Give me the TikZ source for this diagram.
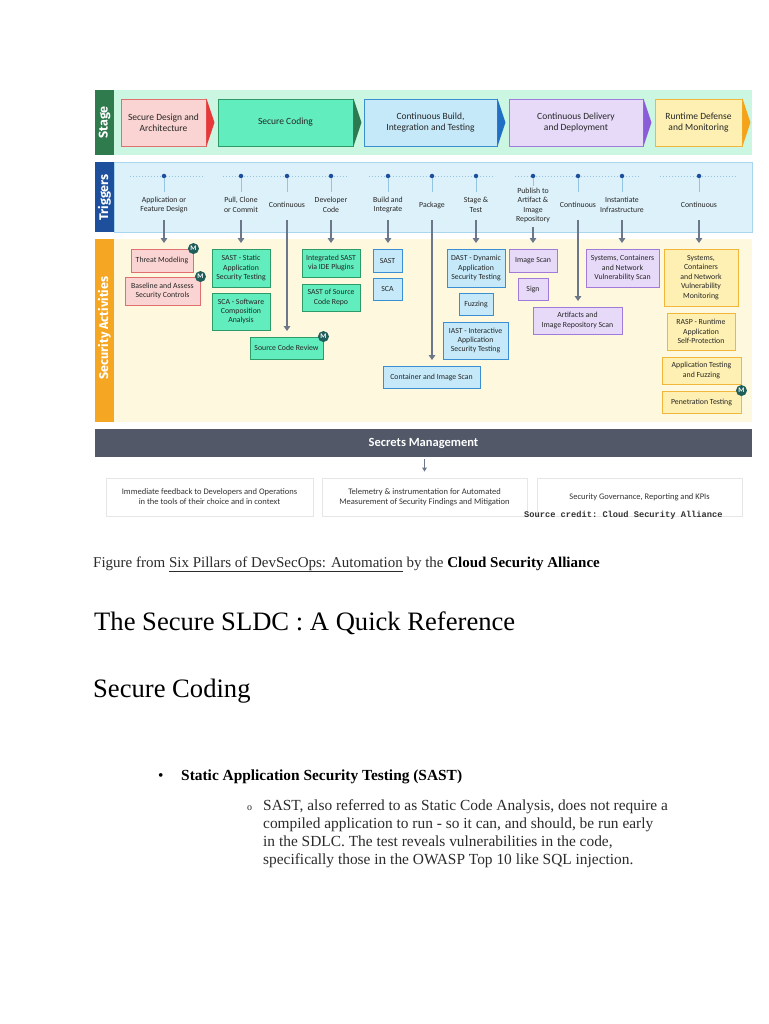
\documentclass[tikz,border=0pt]{standalone}
\usepackage{fontspec}
\setmainfont{Liberation Serif}
\setmonofont{Liberation Mono}
\newfontfamily\dg{Carlito}
\newfontfamily\bandfont{Fira Sans}
\usetikzlibrary{arrows.meta,calc}

\definecolor{stagebg}{HTML}{CBF6E2}
\definecolor{stagebar}{HTML}{2F7B4E}
\definecolor{trigbg}{HTML}{DDF1FA}
\definecolor{trigborder}{HTML}{A8D6EE}
\definecolor{trigbar}{HTML}{1E4F9C}
\definecolor{actbg}{HTML}{FDF8DE}
\definecolor{actbar}{HTML}{F5A623}
\definecolor{redfill}{HTML}{FAD4D2}
\definecolor{redline}{HTML}{E07070}
\definecolor{redtip}{HTML}{E8393A}
\definecolor{grnfill}{HTML}{62EDBE}
\definecolor{grnline}{HTML}{2E9A68}
\definecolor{grntip}{HTML}{2B7A52}
\definecolor{blufill}{HTML}{C5E9F9}
\definecolor{bluline}{HTML}{3A8FD2}
\definecolor{blutip}{HTML}{2270C6}
\definecolor{purfill}{HTML}{E7DAF9}
\definecolor{purline}{HTML}{A27BDA}
\definecolor{purtip}{HTML}{8B5CD8}
\definecolor{yelfill}{HTML}{FDF0B2}
\definecolor{yelline}{HTML}{F0B73A}
\definecolor{yeltip}{HTML}{F5A319}
\definecolor{arrowgray}{HTML}{6C788A}
\definecolor{dotblue}{HTML}{1C4E9E}
\definecolor{dotline}{HTML}{93C4E2}
\definecolor{secretsbg}{HTML}{525868}
\definecolor{badgecol}{HTML}{1F5E5A}
\definecolor{lightbox}{HTML}{E6E6E6}
\definecolor{bodytext}{HTML}{2B2B2B}

\tikzset{
  stagebox/.style={draw, line width=0.9pt, minimum height=47, inner sep=2,
    align=center, text=black!85, font=\dg\fontsize{9.5}{11}\selectfont},
  actbox/.style={draw, line width=0.9pt, inner sep=1.5, align=center,
    text=black!85, font=\dg\fontsize{7.8}{9.4}\selectfont},
  redb/.style={actbox, fill=redfill, draw=redline},
  grnb/.style={actbox, fill=grnfill, draw=grnline},
  blub/.style={actbox, fill=blufill, draw=bluline},
  purb/.style={actbox, fill=purfill, draw=purline},
  yelb/.style={actbox, fill=yelfill, draw=yelline},
  trig/.style={inner sep=0, minimum height=22, align=center, text=black!85,
    font=\dg\fontsize{7.8}{9.6}\selectfont},
  tdot/.style={circle, fill=dotblue, inner sep=0, minimum size=4.5},
  tline/.style={dotline, line width=0.8pt, shorten >=2pt},
  guide/.style={dotline, line width=0.8pt, dash pattern=on 1.2pt off 1.8pt},
  garrow/.style={line width=2.1pt, arrowgray, -{Triangle[length=5pt,width=6.5pt]},
    shorten <=4pt, shorten >=5.5pt},
  badgem/.style={circle, fill=badgecol, inner sep=0, minimum size=11,
    text=white, font=\dg\bfseries\fontsize{7}{7}\selectfont},
  bandlabel/.style={rotate=90, text=white, inner sep=0,
    font=\bandfont\bfseries\fontsize{12.5}{13}\selectfont},
  outbox/.style={draw=lightbox, line width=0.8pt, fill=white, minimum height=38,
    align=center, text=black!80, font=\dg\fontsize{8.5}{10}\selectfont},
  pagetext/.style={anchor=base west, inner sep=0, text=bodytext,
    font=\fontsize{15.4}{18}\selectfont},
  headtext/.style={anchor=base west, inner sep=0, text=black,
    font=\fontsize{26.6}{30}\selectfont},
}

\begin{document}
\begin{tikzpicture}[x=1pt,y=-1pt]
\useasboundingbox (0,0) rectangle (768,1024);
\fill[white] (0,0) rectangle (768,1024);

% ---------- Stage band ----------
\fill[stagebg] (95,90) rectangle (752,155);
\fill[stagebar] (95,90) rectangle (114,155);
\node[bandlabel] (lstage) at (104.5,122.5) {Stage};

\node[stagebox, fill=redfill, draw=redline, minimum width=85] (s1) at (163.5,122.5) {Secure Design and\\Architecture};
\node[stagebox, fill=grnfill, draw=grnline, minimum width=135] (s2) at (285.5,122.5) {Secure Coding};
\node[stagebox, fill=blufill, draw=bluline, minimum width=133] (s3) at (430.5,122.5) {Continuous Build,\\Integration and Testing};
\node[stagebox, fill=purfill, draw=purline, minimum width=134] (s4) at (576,122.5) {Continuous Delivery\\and Deployment};
\node[stagebox, fill=yelfill, draw=yelline, minimum width=87] (s5) at (698.5,122.5) {Runtime Defense\\and Monitoring};
\foreach \n/\c in {s1/redtip,s2/grntip,s3/blutip,s4/purtip,s5/yeltip}
  \fill[\c] (\n.north east) -- ($(\n.east)+(8,0)$) -- (\n.south east) -- cycle;

% ---------- Triggers band ----------
\fill[trigbg] (114,162) rectangle (752,232);
\draw[trigborder, line width=0.8pt] (114,162) rectangle (752,232);
\fill[trigbar] (95,162) rectangle (114,232);
\node[bandlabel] (ltrig) at (104.5,197.5) {Triggers};

\draw[guide] (130,176) -- (203,176);
\draw[guide] (223,176) -- (347,176);
\draw[guide] (369,176) -- (495,176);
\draw[guide] (515,176) -- (640,176);
\draw[guide] (660,176) -- (738,176);

\node[trig] (t1) at (164,205) {Application or\\Feature Design};
\node[trig] (t2) at (241,205) {Pull, Clone\\or Commit};
\node[trig] (t3) at (287,205) {Continuous};
\node[trig] (t4) at (331,205) {Developer\\Code};
\node[trig] (t5) at (388,205) {Build and\\Integrate};
\node[trig] (t6) at (432,205) {Package};
\node[trig] (t7) at (476,205) {Stage \&\\Test};
\node[trig] (t8) at (533,205.5) {Publish to\\Artifact \&\\Image\\Repository};
\node[trig] (t9) at (578,205) {Continuous};
\node[trig] (t10) at (622,205) {Instantiate\\Infrastructure};
\node[trig] (t11) at (699,205) {Continuous};

\foreach \i/\x in {1/164,2/241,3/287,4/331,5/388,6/432,7/476,8/533,9/578,10/622,11/699} {
  \node[tdot] (d\i) at (\x,176) {};
  \draw[tline] (d\i) -- (t\i.north);
}

% ---------- Security activities band ----------
\fill[actbg] (114,239) rectangle (752,422);
\fill[actbar] (95,239) rectangle (114,422);
\node[bandlabel] (lact) at (104.5,328) {Security Activities};

\node[redb, minimum width=62, minimum height=23] (tm) at (162,260.5) {Threat Modeling};
\node[redb, minimum width=75, minimum height=28] (bas) at (162.5,291) {Baseline and Assess\\Security Controls};
\node[grnb, minimum width=58, minimum height=38] (sast) at (241,268) {SAST - Static\\Application\\Security Testing};
\node[grnb, minimum width=58, minimum height=37] (sca) at (241,311.5) {SCA - Software\\Composition\\Analysis};
\node[grnb, minimum width=73, minimum height=22] (scr) at (286.5,348) {Source Code Review};
\node[grnb, minimum width=58, minimum height=28] (isast) at (331,263) {Integrated SAST\\via IDE Plugins};
\node[grnb, minimum width=58, minimum height=27] (rsast) at (331,297.5) {SAST of Source\\Code Repo};
\node[blub, minimum width=29, minimum height=23] (bsast) at (387.5,260.5) {SAST};
\node[blub, minimum width=29, minimum height=22] (bsca) at (387.5,289) {SCA};
\node[blub, minimum width=97, minimum height=22] (cis) at (431.5,377) {Container and Image Scan};
\node[blub, minimum width=58, minimum height=38] (dast) at (476,268) {DAST - Dynamic\\Application\\Security Testing};
\node[blub, minimum width=34, minimum height=22] (fuzz) at (476,304) {Fuzzing};
\node[blub, minimum width=65, minimum height=37] (iast) at (475.5,340.5) {IAST - Interactive\\Application\\Security Testing};
\node[purb, minimum width=48, minimum height=23] (imgs) at (533,260.5) {Image Scan};
\node[purb, minimum width=30, minimum height=22] (sign) at (533,289) {Sign};
\node[purb, minimum width=89, minimum height=27] (art) at (577.5,320.5) {Artifacts and\\Image Repository Scan};
\node[purb, minimum width=73, minimum height=38] (sysscan) at (622.5,268) {Systems, Containers\\and Network\\Vulnerability Scan};
\node[yelb, minimum width=74, minimum height=57] (sysmon) at (701,277.5) {Systems,\\Containers\\and Network\\Vulnerability\\Monitoring};
\node[yelb, minimum width=68, minimum height=37] (rasp) at (701,331.5) {RASP - Runtime\\Application\\Self-Protection};
\node[yelb, minimum width=79, minimum height=27] (apt) at (701.5,370.5) {Application Testing\\and Fuzzing};
\node[yelb, minimum width=79, minimum height=22] (pen) at (701.5,402) {Penetration Testing};

\node[badgem] (m1) at (tm.north east) {M};
\node[badgem] (m2) at (bas.north east) {M};
\node[badgem] (m3) at (scr.north east) {M};
\node[badgem] (m4) at (pen.north east) {M};

% trigger arrows
\foreach \a/\b in {t1/tm,t2/sast,t3/scr,t4/isast,t5/bsast,t6/cis,t7/dast,t8/imgs,t9/art,t10/sysscan,t11/sysmon}
  \draw[garrow] (\a.south) -- (\a.south |- \b.north);

% ---------- Secrets management ----------
\node[fill=secretsbg, minimum width=657, minimum height=28, inner sep=0, text=white,
  font=\dg\bfseries\fontsize{12.5}{14}\selectfont] (sec) at (423.5,443) {Secrets Management};

\node[outbox, minimum width=207] (b1) at (209.5,497) {Immediate feedback to Developers and Operations\\in the tools of their choice and in context};
\node[outbox, minimum width=205] (b2) at (424.5,497) {Telemetry \& instrumentation for Automated\\Measurement of Security Findings and Mitigation};
\node[outbox, minimum width=205] (b3) at (639.5,497) {Security Governance, Reporting and KPIs};
\draw[line width=1.1pt, arrowgray, -{Triangle[length=4pt,width=4.5pt]}, shorten <=2pt, shorten >=6pt]
  (b2.north |- sec.south) -- (b2.north);

\node[anchor=base west, inner sep=0, text=black!80,
  font=\ttfamily\bfseries\fontsize{8.7}{10}\selectfont] (credit) at (524,517) {Source credit: Cloud Security Alliance};

% ---------- Page text ----------
\node[pagetext, font=\fontsize{15}{18}\selectfont] (cap) at (93,567) {Figure from \underline{Six Pillars of DevSecOps: Automation} by the {\color{black}\bfseries Cloud Security Alliance}};
\node[headtext] (h1) at (94,630) {The Secure SLDC : A Quick Reference};
\node[headtext] (h2) at (93,697) {Secure Coding};

\node[pagetext, text=black] (bul) at (158,780) {\textbullet};
\node[pagetext, text=black, font=\bfseries\fontsize{15.4}{18}\selectfont] (item) at (181,780) {Static Application Security Testing (SAST)};
\node[pagetext, font=\fontsize{10}{12}\selectfont] (sub) at (247,810) {o};
\node[pagetext] (l1) at (263,810) {SAST, also referred to as Static Code Analysis, does not require a};
\node[pagetext] (l2) at (263,828) {compiled application to run - so it can, and should, be run early};
\node[pagetext] (l3) at (263,846) {in the SDLC. The test reveals vulnerabilities in the code,};
\node[pagetext] (l4) at (263,864) {specifically those in the OWASP Top 10 like SQL injection.};
\end{tikzpicture}
\end{document}
